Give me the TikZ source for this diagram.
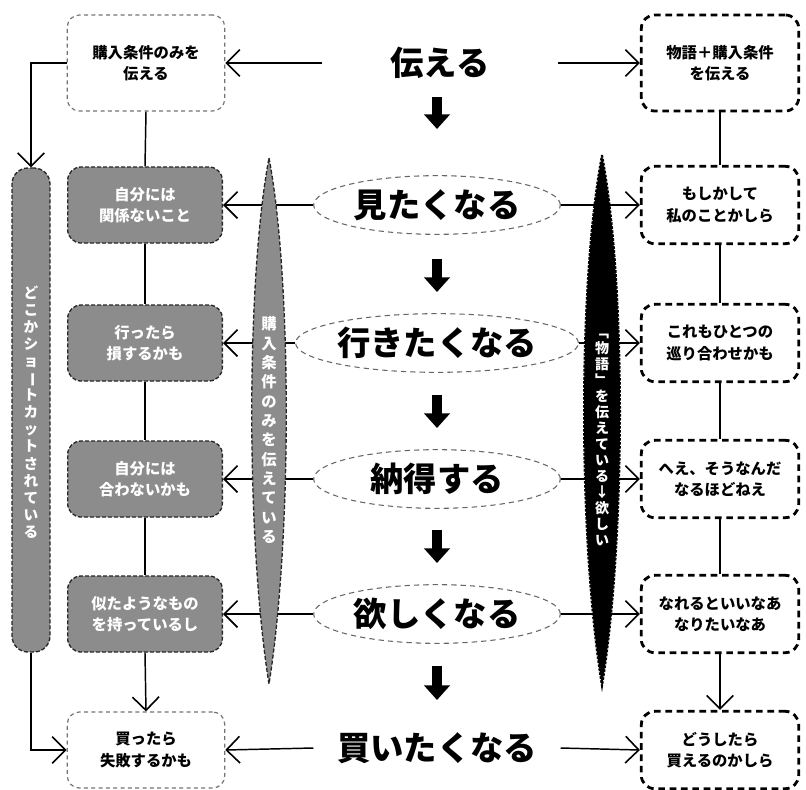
\documentclass[tikz,border=0pt]{standalone}
\usepackage{fontspec}
\usepackage{graphicx}
\setmainfont{Noto Sans CJK JP}
\usetikzlibrary{arrows.meta,shapes.geometric}
\newcommand\vbar{\rotatebox[origin=c]{-90}{ー}}
\tikzset{
  ar/.style={line width=1.1pt,-{Straight Barb[length=10pt,width=20pt,line width=1.2pt]}},
  ln/.style={line width=1.1pt},
  blk/.style={line width=7.5pt,-{Triangle[length=11pt,width=19pt]}},
  boxtext/.style={align=center,font=\bfseries\fontsize{11.5}{16}\selectfont},
  lightbox/.style={boxtext,draw=black!55,line width=0.9pt,dash pattern=on 3pt off 2.5pt,rounded corners=9pt,minimum width=118pt,minimum height=72pt,inner sep=0pt},
  graybox/.style={boxtext,text=white,fill=black!45,draw=black!85,line width=1pt,dash pattern=on 3pt off 1.5pt,rounded corners=10pt,minimum width=116pt,minimum height=57pt,inner sep=0pt},
  rbox/.style={boxtext,draw=black,line width=2.1pt,dash pattern=on 5pt off 3.5pt,rounded corners=10pt,minimum width=118pt,minimum height=58pt,inner sep=0pt},
  ell/.style={ellipse,draw=black!60,line width=0.8pt,dash pattern=on 4pt off 3pt,minimum width=185pt,minimum height=44pt,inner sep=0pt,font=\bfseries\fontsize{25}{28}\selectfont},
  ctr/.style={font=\bfseries\fontsize{25}{28}\selectfont,inner sep=0pt},
  vtxt/.style={align=center,text=white,font=\bfseries\fontsize{11}{13.5}\selectfont,inner sep=0pt}
}
\begin{document}
\begin{tikzpicture}[x=0.75pt,y=-0.75pt]
\useasboundingbox (0,0) rectangle (806,789);
% left column
\node[lightbox] (tl) at (146,63) {購入条件のみを\\伝える};
\node[graybox] (g1) at (145,205) {自分には\\関係ないこと};
\node[graybox] (g2) at (145,343) {行ったら\\損するかも};
\node[graybox] (g3) at (145,479) {自分には\\合わないかも};
\node[graybox] (g4) at (145,614) {似たようなもの\\を持っているし};
\node[lightbox,minimum height=57pt] (bl) at (146,750) {買ったら\\失敗するかも};
\node[fill=black!45,draw=black!85,line width=1pt,dash pattern=on 3pt off 1.5pt,rounded corners=12pt,minimum width=28.5pt,minimum height=363pt,inner sep=0pt] (lb) at (31,410) {};
% centre
\node[ctr,minimum width=176pt] (c0) at (440,63) {伝える};
\node[ell] (e1) at (437,205) {見たくなる};
\node[ell] (e2) at (437,343) {行きたくなる};
\node[ell] (e3) at (437,479) {納得する};
\node[ell] (e4) at (437,614) {欲しくなる};
\node[ctr,minimum width=185pt] (c5) at (437,748) {買いたくなる};
% right column
\node[rbox,minimum height=72pt] (r0) at (720,63) {物語＋購入条件\\を伝える};
\node[rbox] (r1) at (720,205) {もしかして\\私のことかしら};
\node[rbox] (r2) at (720,343) {これもひとつの\\巡り合わせかも};
\node[rbox] (r3) at (720,479) {へえ、そうなんだ\\なるほどねえ};
\node[rbox] (r4) at (720,614) {なれるといいなあ\\なりたいなあ};
\node[rbox] (r5) at (720,750) {どうしたら\\買えるのかしら};
% block arrows
\draw[blk] (437,97) -- (437,129);
\draw[blk] (437,259) -- (437,292);
\draw[blk] (437,395) -- (437,428);
\draw[blk] (437,530) -- (437,563);
\draw[blk] (437,666) -- (437,700);
% horizontal connectors
\draw[ar] (c0.west) -- (tl.east);
\draw[ar] (c0.east) -- (r0.west);
\draw[ar] (e1.west) -- (g1.east);
\draw[ar] (e2.west) -- (g2.east);
\draw[ar] (e3.west) -- (g3.east);
\draw[ar] (e4.west) -- (g4.east);
\draw[ar] (e1.east) -- (r1.west);
\draw[ar] (e2.east) -- (r2.west);
\draw[ar] (e3.east) -- (r3.west);
\draw[ar] (e4.east) -- (r4.west);
\draw[ar] (c5.west) -- (bl.east);
\draw[ar] (c5.east) -- (r5.west);
% vertical connectors
\draw[ln] (tl.south) -- (g1.north);
\draw[ln] (g1.south) -- (g2.north);
\draw[ln] (g2.south) -- (g3.north);
\draw[ln] (g3.south) -- (g4.north);
\draw[ar] (g4.south) -- (bl.north);
\draw[ln] (r0.south) -- (r1.north);
\draw[ln] (r1.south) -- (r2.north);
\draw[ln] (r2.south) -- (r3.north);
\draw[ln] (r3.south) -- (r4.north);
\draw[ar] (r4.south) -- (r5.north);
\draw[ar] (tl.west) -| (lb.north);
\draw[ar] (lb.south) |- (bl.west);
% spindles
\fill[black!45,draw=black!85,line width=1pt,dash pattern=on 3pt off 1.5pt]
  (269,158) .. controls (292,280) and (292,540) .. (269,684) .. controls (246,540) and (246,280) .. (269,158) -- cycle;
\fill[black,draw=black,line width=1.5pt,dash pattern=on 2pt off 1pt]
  (602,155) .. controls (626,280) and (626,540) .. (602,686) .. controls (578,540) and (578,280) .. (602,155) -- cycle;
% vertical texts
\node[vtxt,font=\bfseries\fontsize{11}{12.8}\selectfont] (lbt) at (31,412) {ど\\こ\\か\\シ\\ョ\\\vbar\\ト\\カ\\ッ\\ト\\さ\\れ\\て\\い\\る};
\node[vtxt,font=\bfseries\fontsize{11.5}{14.5}\selectfont] (lst) at (269,430) {購\\入\\条\\件\\の\\み\\を\\伝\\え\\て\\い\\る};
\node[vtxt,font=\bfseries\fontsize{10.5}{12}\selectfont] (rst) at (602,440) {﹁\\物\\語\\﹂\\を\\伝\\え\\て\\い\\る\\↓\\欲\\し\\い};
\end{tikzpicture}
\end{document}
